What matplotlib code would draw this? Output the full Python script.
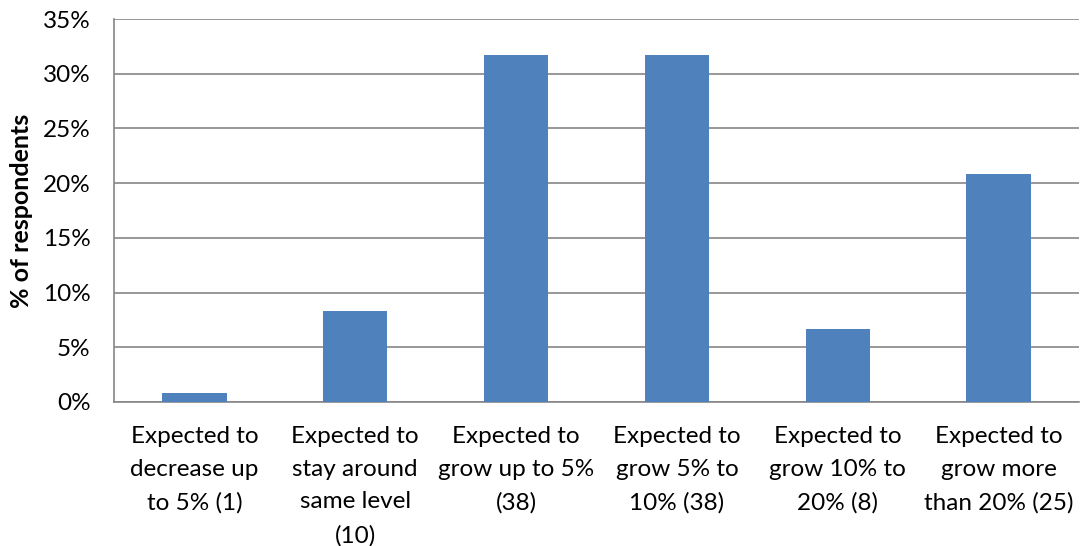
import matplotlib
matplotlib.use("Agg")
import matplotlib.pyplot as plt
from matplotlib.ticker import FuncFormatter, MultipleLocator

categories = [
    "Expected to\ndecrease up\nto 5% (1)",
    "Expected to\nstay around\nsame level\n(10)",
    "Expected to\ngrow up to 5%\n(38)",
    "Expected to\ngrow 5% to\n10% (38)",
    "Expected to\ngrow 10% to\n20% (8)",
    "Expected to\ngrow more\nthan 20% (25)",
]
counts = [1, 10, 38, 38, 8, 25]
total = sum(counts)
percentages = [100.0 * c / total for c in counts]

plt.rcParams["font.family"] = ["Lato", "DejaVu Sans"]

fig = plt.figure(figsize=(10.81, 5.46), dpi=100)
ax = fig.add_axes([114 / 1081, 1 - 402 / 546, (1079 - 114) / 1081, (402 - 19) / 546])

x = list(range(len(categories)))
ax.bar(x, percentages, width=0.4, color="#4F81BD", zorder=3)

ax.set_xlim(-0.5, len(categories) - 0.5)
ax.set_ylim(0, 35)
ax.yaxis.set_major_locator(MultipleLocator(5))
ax.yaxis.set_major_formatter(FuncFormatter(lambda v, _: f"{v:.0f}%"))
ax.grid(axis="y", color="#868686", linewidth=1.2, zorder=0)

for side in ("top", "right"):
    ax.spines[side].set_visible(False)
for side in ("left", "bottom"):
    ax.spines[side].set_color("#868686")
    ax.spines[side].set_linewidth(1.2)

ax.set_xticks(x)
ax.set_xticklabels(categories, fontsize=17.5, linespacing=1.7, color="#000000")
ax.tick_params(axis="x", length=0, pad=17)
ax.tick_params(axis="y", length=0, pad=17, labelsize=17.5, labelcolor="#000000")

ax.set_ylabel("% of respondents", fontsize=18, fontweight="bold", labelpad=7)

fig.savefig("out.png", dpi=100)
